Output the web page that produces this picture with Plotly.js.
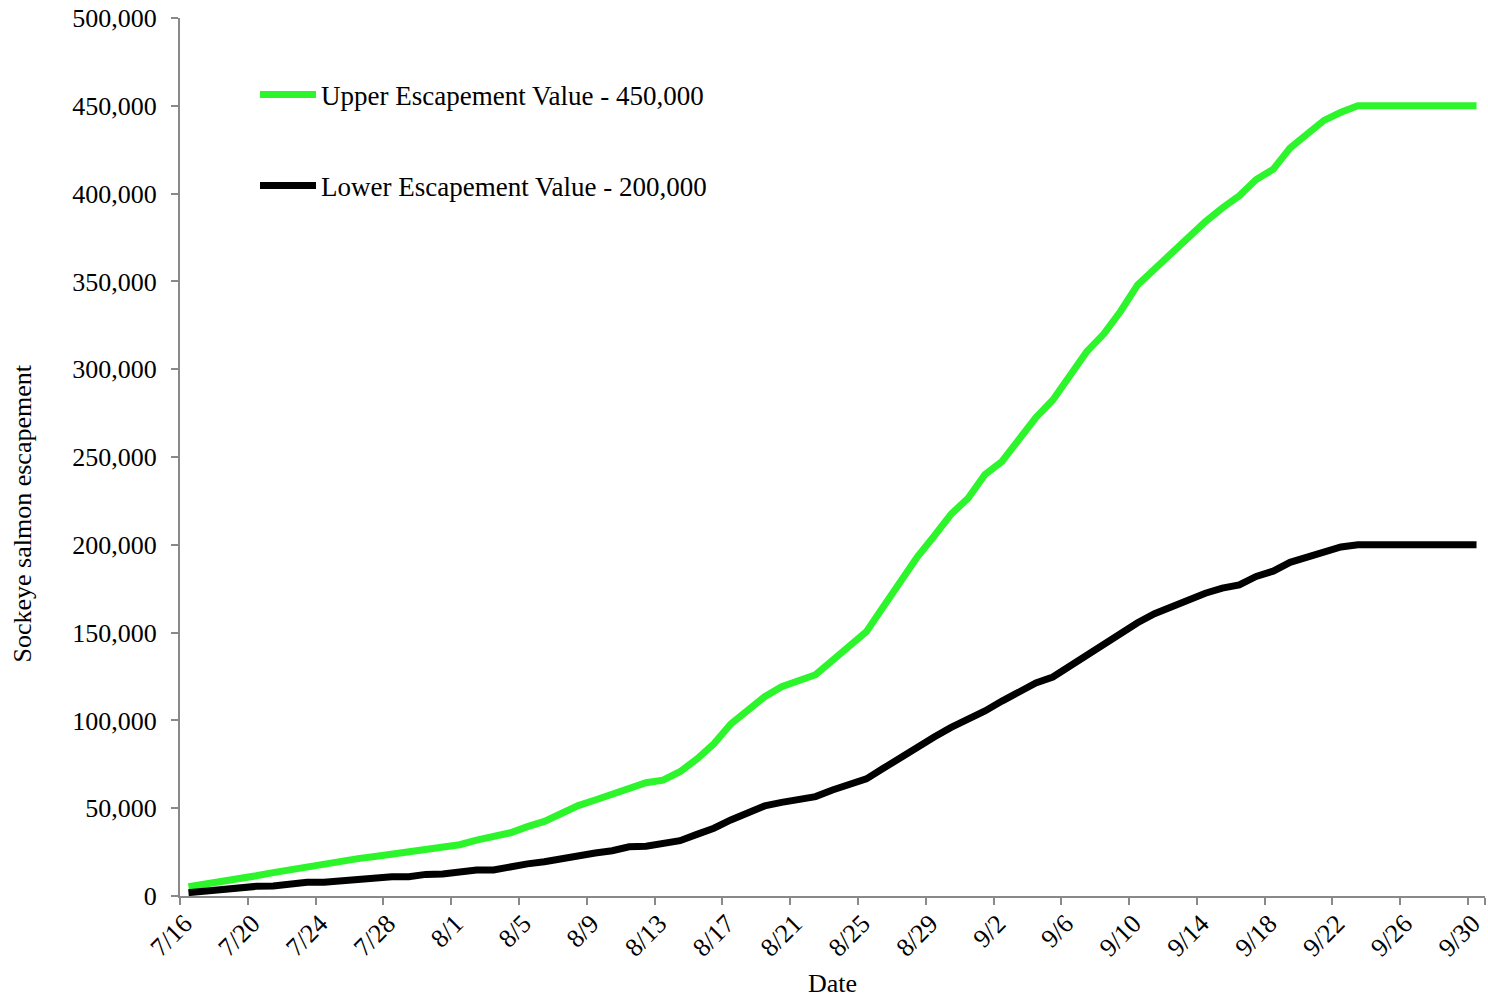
<!DOCTYPE html>
<html>
<head>
<meta charset="utf-8">
<script src="https://cdn.plot.ly/plotly-3.0.1.min.js"></script>
<style>
  html, body { margin: 0; padding: 0; background: #fff; }
  #chart { width: 1488px; height: 998px; }
</style>
</head>
<body>
<div id="chart"></div>
<script>
// Dates (categories), 7/16 through 9/30
const dates = [
  '7/16','7/17','7/18','7/19','7/20','7/21','7/22','7/23','7/24','7/25','7/26','7/27','7/28','7/29','7/30','7/31',
  '8/1','8/2','8/3','8/4','8/5','8/6','8/7','8/8','8/9','8/10','8/11','8/12','8/13','8/14','8/15','8/16',
  '8/17','8/18','8/19','8/20','8/21','8/22','8/23','8/24','8/25','8/26','8/27','8/28','8/29','8/30','8/31',
  '9/1','9/2','9/3','9/4','9/5','9/6','9/7','9/8','9/9','9/10','9/11','9/12','9/13','9/14','9/15','9/16',
  '9/17','9/18','9/19','9/20','9/21','9/22','9/23','9/24','9/25','9/26','9/27','9/28','9/29','9/30'
];

// Cumulative sockeye escapement goal curves
const upperValues = [
  5300, 6800, 8000, 9200, 11500, 13300, 15000, 16700, 17800, 19300, 21300, 22500, 23700, 24800, 26900, 28000,
  29200, 31800, 34000, 36000, 39500, 42500, 47000, 51500, 54700, 58000, 62000, 64500, 66000, 70800, 78000, 86700,
  98000, 105800, 113500, 119200, 122600, 126000, 134200, 142000, 150500, 164700, 179000, 193000, 205000, 217500, 226500,
  240000, 247500, 260000, 272500, 282500, 296700, 310000, 320000, 333000, 348000, 357000, 366000, 376000, 384000, 391800, 398800,
  408000, 413800, 426000, 433600, 441700, 446300, 450000, 450000, 450000, 450000, 450000, 450000, 450000, 450000
];
const lowerValues = [
  1900, 3000, 3400, 4500, 5500, 5700, 6800, 7800, 7800, 8800, 9800, 10000, 11000, 11000, 12300, 12500,
  13500, 14800, 14800, 17000, 18300, 19500, 21500, 23300, 24500, 25800, 28000, 28300, 30400, 31500, 35100, 38600,
  43300, 47800, 51300, 53300, 54500, 56600, 60400, 63300, 66700, 72700, 79000, 84700, 90500, 96000, 100200,
  105400, 111000, 116000, 121300, 124700, 130800, 137000, 143500, 150000, 155600, 160800, 165000, 168500, 172400, 175300, 177200,
  182000, 185000, 190000, 193000, 196700, 198800, 200000, 200000, 200000, 200000, 200000, 200000, 200000, 200000
];

const upperName = 'Upper Escapement Value - 450,000';
const lowerName = 'Lower Escapement Value - 200,000';
const xTickLabels = ['7/16','7/20','7/24','7/28','8/1','8/5','8/9','8/13','8/17','8/21','8/25','8/29','9/2','9/6','9/10','9/14','9/18','9/22','9/26','9/30'];
const yTicks = [0, 50000, 100000, 150000, 200000, 250000, 300000, 350000, 400000, 450000, 500000];
const yTitle = 'Sockeye salmon escapement';
const xTitle = 'Date';

const FONT = '"Liberation Serif", "Times New Roman", Times, serif';
const AXIS_GRAY = '#898989';

const traces = [
  {
    x: dates, y: upperValues, type: 'scatter', mode: 'lines', name: upperName,
    line: { color: '#2cf52c', width: 7 }, legend: 'legend', hoverinfo: 'x+y'
  },
  {
    x: dates, y: lowerValues, type: 'scatter', mode: 'lines', name: lowerName,
    line: { color: '#000000', width: 7 }, legend: 'legend2', hoverinfo: 'x+y'
  }
];

const layout = {
  width: 1488, height: 998,
  margin: { l: 180, r: 3, t: 18, b: 102 },
  paper_bgcolor: '#ffffff', plot_bgcolor: '#ffffff',
  font: { family: FONT, size: 26, color: '#000000' },
  separators: '.,',
  showlegend: true,
  xaxis: {
    type: 'category',
    categoryorder: 'array', categoryarray: dates,
    range: [-0.5, dates.length - 0.5],
    tickmode: 'array', tickvals: xTickLabels, ticktext: xTickLabels,
    tickson: 'boundaries',
    tickangle: -45,
    ticklabelshift: -4,
    ticks: 'outside', ticklen: 7, tickwidth: 2, tickcolor: AXIS_GRAY,
    showline: true, linecolor: AXIS_GRAY, linewidth: 2,
    showgrid: false, zeroline: false,
    tickfont: { family: FONT, size: 26, color: '#000' },
    title: { text: xTitle, font: { family: FONT, size: 26, color: '#000' }, standoff: 14 },
    automargin: false, fixedrange: true
  },
  yaxis: {
    range: [0, 500000],
    tickmode: 'array', tickvals: yTicks,
    tickformat: ',d',
    ticks: 'outside', ticklen: 7, tickwidth: 2, tickcolor: AXIS_GRAY,
    showline: true, linecolor: AXIS_GRAY, linewidth: 2,
    showgrid: false, zeroline: false,
    ticklabelstandoff: 9,
    tickfont: { family: FONT, size: 26, color: '#000' },
    automargin: false, fixedrange: true
  },
  annotations: [
    {
      text: yTitle, textangle: -90,
      xref: 'paper', yref: 'paper',
      x: (22 - 180) / 1305, y: (896 - 513.5) / 878,
      xanchor: 'center', yanchor: 'middle',
      showarrow: false,
      font: { family: FONT, size: 26, color: '#000' }
    }
  ],
  legend: {
    x: (255 - 180) / 1305, y: (896 - 95) / 878,
    xanchor: 'left', yanchor: 'middle',
    bgcolor: 'rgba(0,0,0,0)', borderwidth: 0,
    itemwidth: 56,
    font: { family: FONT, size: 27, color: '#000' }
  },
  legend2: {
    x: (255 - 180) / 1305, y: (896 - 186) / 878,
    xanchor: 'left', yanchor: 'middle',
    bgcolor: 'rgba(0,0,0,0)', borderwidth: 0,
    itemwidth: 56,
    font: { family: FONT, size: 27, color: '#000' }
  }
};

Plotly.newPlot('chart', traces, layout, { displayModeBar: false, staticPlot: true });
</script>
</body>
</html>
